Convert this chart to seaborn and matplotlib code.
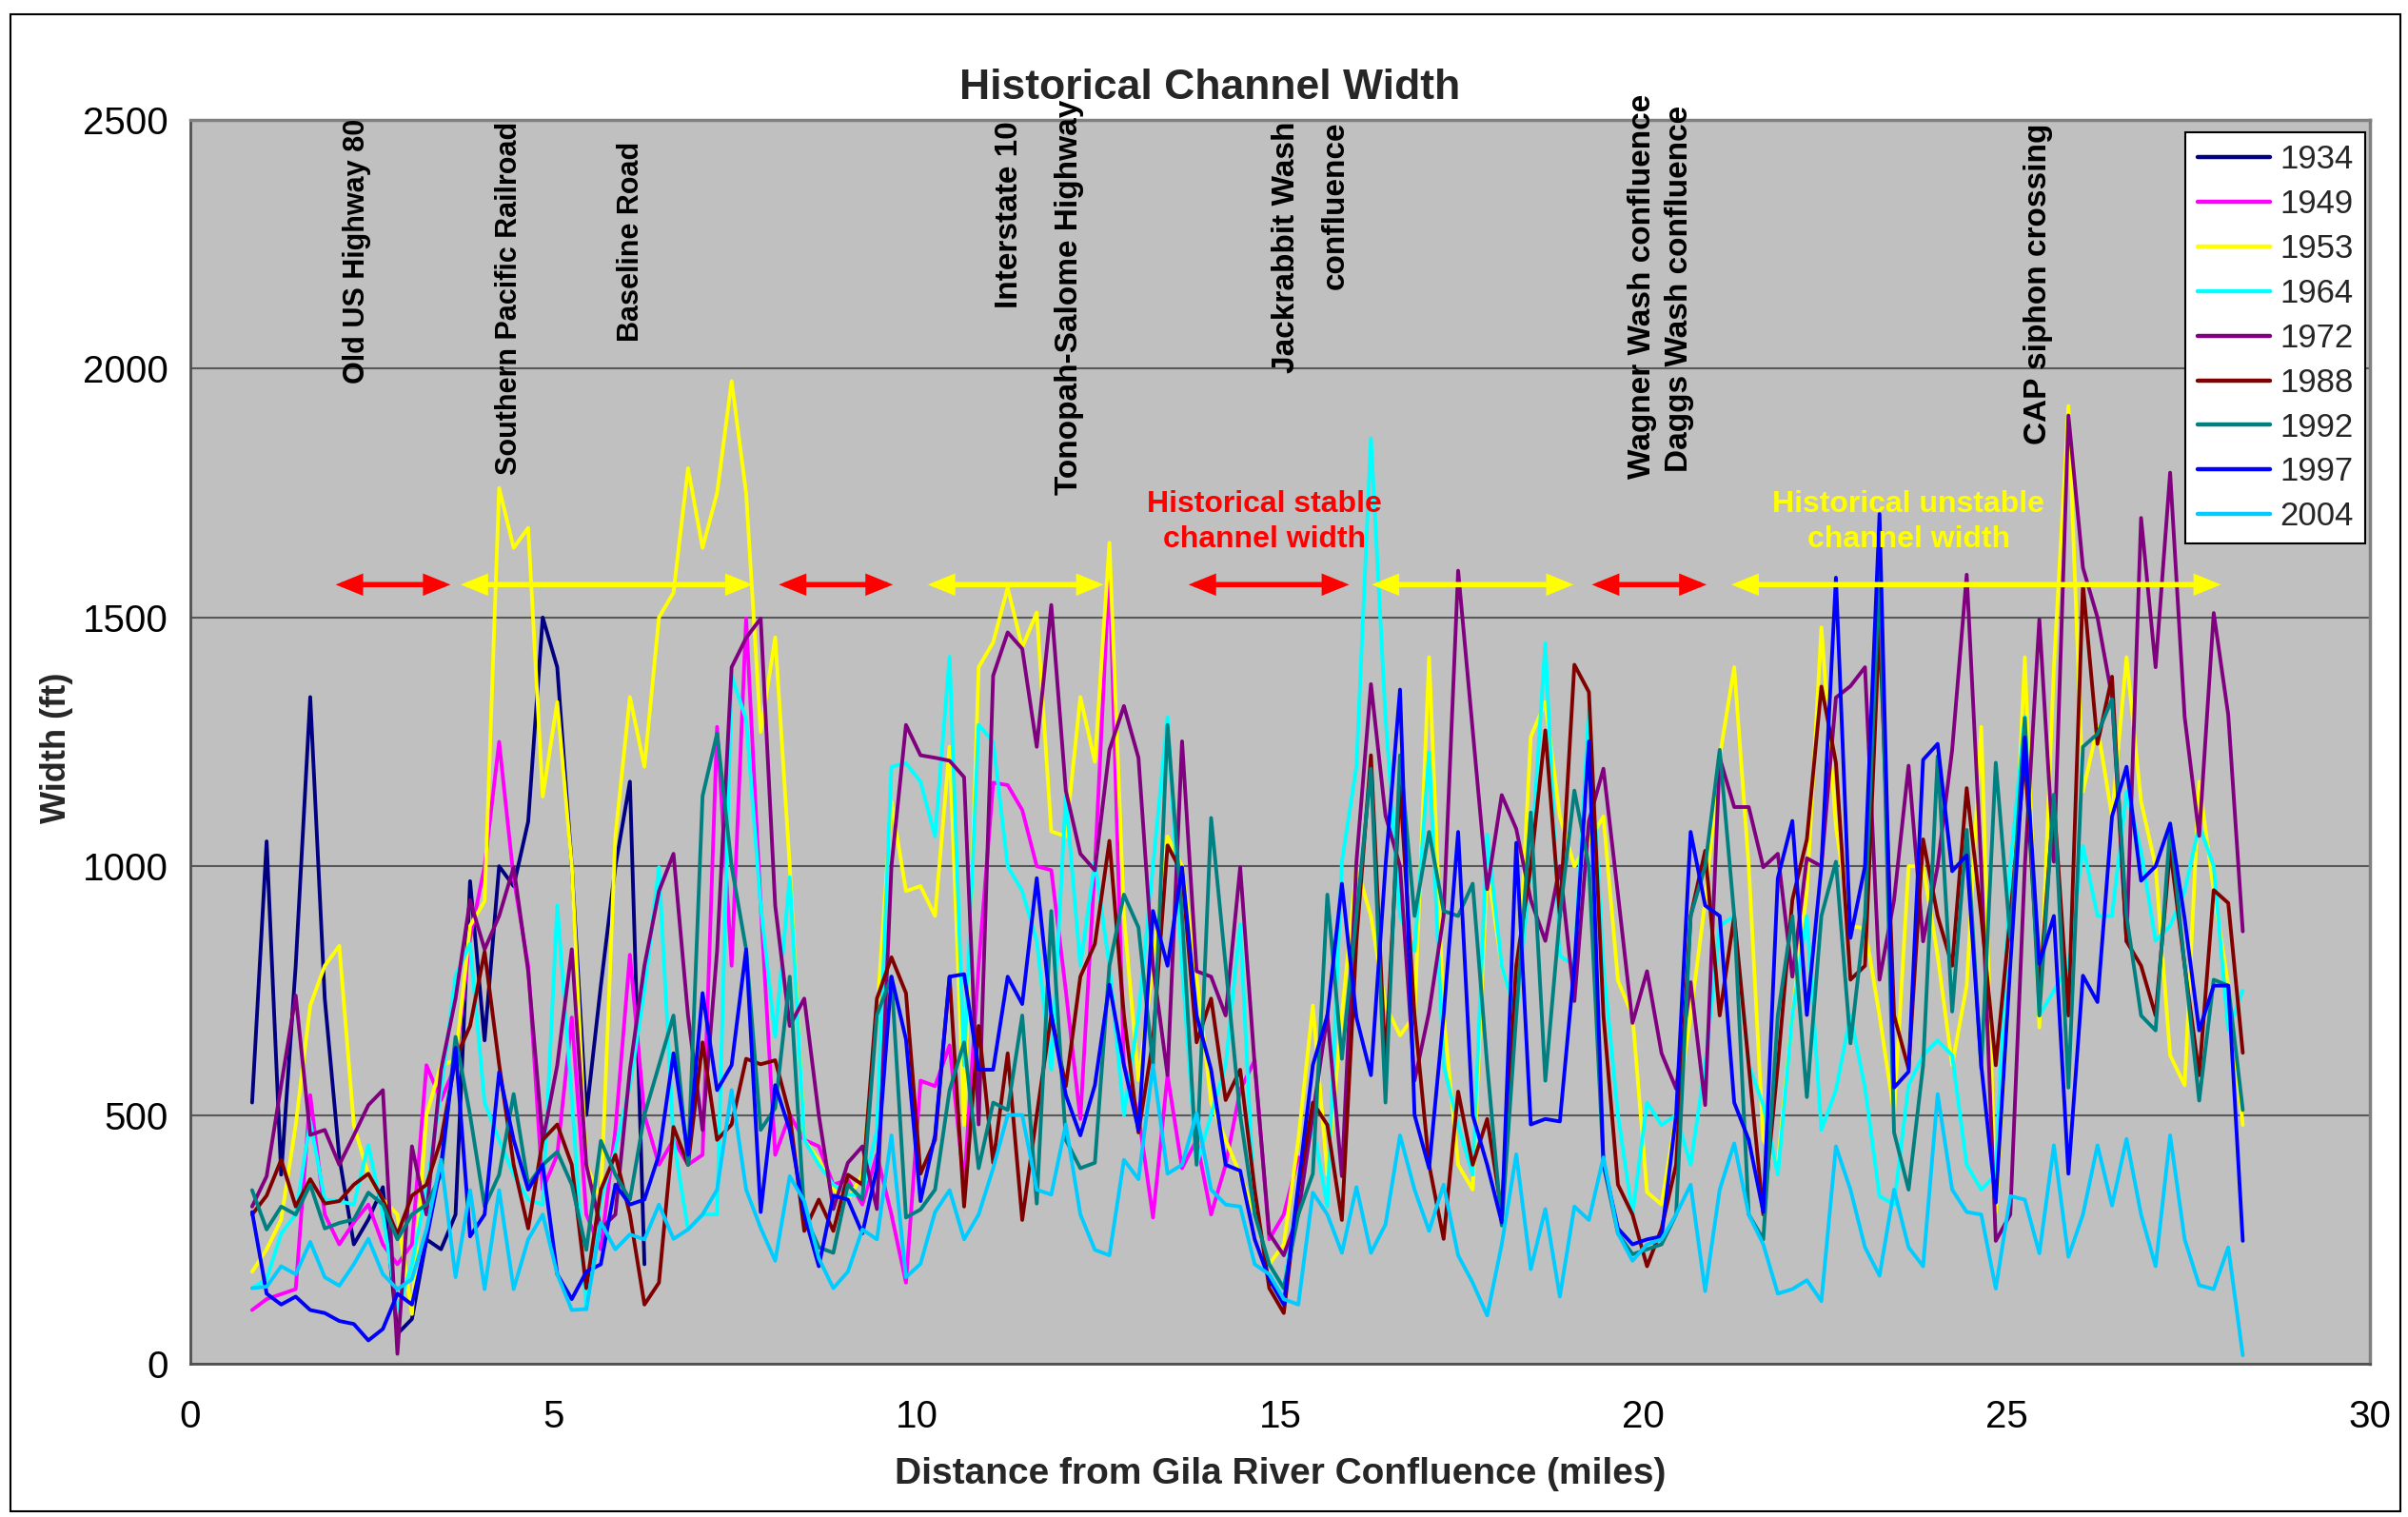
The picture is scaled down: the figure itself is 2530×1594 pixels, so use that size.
import numpy as np
import pandas as pd
import matplotlib
matplotlib.use("Agg")
import matplotlib.pyplot as plt
from matplotlib.patches import Rectangle
import seaborn as sns

# ---------------- data ----------------
START_MILE = 0.85
STEP_MILE = 0.2
N_POINTS = 138
DIST = list(np.round(START_MILE + STEP_MILE * np.arange(N_POINTS), 2))

YEARS = ["1934", "1949", "1953", "1964", "1972", "1988", "1992", "1997", "2004"]
COLORS = ["#000080", "#FF00FF", "#FFFF00", "#00FFFF", "#800080",
          "#800000", "#008080", "#0000FF", "#00CCFF"]

W1934 = [525, 1050, 380, 800, 1340, 734, 415, 240, 290, 355,
         60, 90, 250, 230, 300, 970, 650, 1000, 960, 1090,
         1500, 1400, 1000, 500, 760, 1000, 1170, 200]

W1949 = [108, 130, 140, 150, 540, 300, 240, 284, 320, 240,
         200, 240, 600, 530, 600, 855, 1000, 1250, 976, 800,
         350, 420, 696, 300, 230, 470, 822, 500, 400, 450,
         400, 420, 1280, 800, 1498, 921, 420, 500, 450, 437,
         360, 370, 320, 420, 300, 163, 569, 558, 640, 360,
         800, 1168, 1163, 1113, 1000, 992, 750, 492, 1000, 1600,
         600, 500, 294, 580, 393, 450, 300, 400, 550, 610,
         250, 300, 415]

W1953 = [185, 230, 290, 480, 720, 800, 840, 480, 380, 330,
         300, 100, 500, 600, 610, 880, 930, 1760, 1640, 1680,
         1140, 1330, 1000, 400, 330, 1060, 1340, 1200, 1500, 1550,
         1800, 1640, 1750, 1975, 1750, 1270, 1460, 1000, 450, 410,
         350, 330, 380, 700, 1130, 950, 960, 900, 1240, 480,
         1400, 1450, 1560, 1440, 1510, 1070, 1060, 1340, 1210, 1650,
         900, 570, 800, 1060, 1000, 780, 525, 450, 380, 300,
         200, 240, 450, 720, 380, 700, 1000, 900, 720, 660,
         700, 1420, 700, 400, 350, 1000, 800, 700, 1260, 1330,
         1100, 1000, 1050, 1100, 770, 700, 345, 320, 500, 700,
         930, 1220, 1400, 1000, 450, 400, 700, 950, 1480, 1080,
         880, 875, 700, 503, 1000, 1000, 820, 600, 760, 1280,
         305, 800, 1420, 676, 1400, 1925, 1150, 1280, 1100, 1420,
         1130, 1000, 620, 560, 1170, 950, 760, 480]

W1964 = [152, 170, 262, 300, 487, 330, 327, 320, 440, 300,
         108, 200, 350, 550, 780, 844, 525, 450, 380, 330,
         320, 921, 536, 108, 330, 430, 560, 750, 998, 450,
         270, 300, 300, 1383, 1295, 921, 657, 978, 450, 400,
         360, 340, 340, 470, 1200, 1207, 1170, 1060, 1421, 600,
         1284, 1250, 1000, 950, 850, 591, 1141, 800, 1009, 800,
         500, 700, 1000, 1300, 800, 400, 500, 600, 883, 300,
         200, 150, 350, 480, 316, 1009, 1200, 1860, 1300, 900,
         830, 1229, 600, 480, 380, 1064, 800, 700, 1000, 1448,
         820, 800, 1317, 800, 500, 300, 525, 480, 500, 400,
         600, 880, 900, 600, 520, 380, 700, 900, 470, 550,
         700, 555, 337, 320, 560, 620, 650, 620, 400, 350,
         380, 1000, 1300, 700, 750, 800, 1041, 900, 900, 1150,
         1030, 850, 880, 950, 1082, 1000, 670, 750]

W1972 = [316, 377, 560, 740, 460, 470, 400, 459, 520, 550,
         20, 437, 300, 591, 734, 932, 833, 900, 998, 789,
         448, 600, 833, 400, 272, 300, 591, 800, 950, 1025,
         700, 470, 830, 1400, 1459, 1498, 921, 679, 734, 500,
         311, 404, 437, 311, 1000, 1284, 1223, 1218, 1212, 1179,
         481, 1383, 1470, 1437, 1240, 1525, 1152, 1025, 992, 1234,
         1322, 1218, 800, 580, 1251, 789, 778, 700, 998, 600,
         262, 218, 300, 500, 701, 377, 1009, 1366, 1102, 1000,
         569, 707, 900, 1594, 1273, 954, 1143, 1075, 932, 850,
         1000, 729, 1091, 1196, 943, 685, 789, 624, 553, 767,
         520, 1218, 1119, 1119, 998, 1025, 778, 1016, 1000, 1339,
         1362, 1400, 772, 932, 1202, 849, 1000, 1234, 1586, 1000,
         247, 300, 1000, 1496, 1009, 1906, 1600, 1500, 1340, 849,
         1700, 1400, 1791, 1300, 1061, 1509, 1304, 869]

W1988 = [300, 338, 410, 316, 371, 322, 327, 360, 382, 330,
         260, 338, 360, 450, 613, 679, 828, 602, 400, 272,
         450, 481, 400, 152, 350, 420, 300, 119, 163, 476,
         400, 646, 450, 481, 613, 602, 610, 500, 267, 330,
         267, 380, 360, 734, 817, 745, 382, 450, 778, 316,
         679, 404, 624, 289, 500, 701, 558, 778, 844, 1051,
         700, 465, 650, 1042, 987, 646, 734, 530, 591, 350,
         152, 102, 350, 525, 480, 289, 850, 1223, 600, 1163,
         700, 400, 251, 547, 400, 492, 305, 800, 1000, 1273,
         900, 1405, 1350, 700, 360, 300, 196, 272, 400, 900,
         1031, 700, 900, 600, 300, 600, 932, 1054, 1361, 1208,
         772, 800, 1490, 700, 593, 1054, 900, 800, 1157, 900,
         600, 900, 1221, 747, 1131, 700, 1567, 1246, 1381, 849,
         800, 700, 1035, 800, 580, 952, 926, 625]

W1992 = [349, 270, 316, 300, 360, 272, 283, 290, 344, 320,
         250, 300, 320, 380, 657, 500, 316, 380, 542, 360,
         400, 426, 360, 229, 448, 380, 330, 500, 600, 700,
         400, 1141, 1267, 1000, 833, 470, 514, 778, 300, 234,
         223, 360, 330, 701, 778, 294, 310, 350, 550, 646,
         393, 525, 510, 700, 322, 910, 450, 393, 404, 800,
         943, 877, 600, 1284, 900, 400, 1097, 800, 500, 300,
         200, 152, 300, 382, 943, 613, 900, 1196, 525, 1223,
         900, 1069, 910, 900, 965, 600, 278, 700, 1108, 569,
         900, 1152, 1000, 400, 262, 220, 230, 240, 300, 900,
         1000, 1234, 900, 300, 250, 700, 900, 536, 900, 1009,
         644, 900, 1592, 465, 350, 600, 1221, 708, 1073, 593,
         1208, 856, 1298, 700, 1144, 555, 1240, 1266, 1336, 900,
         700, 670, 1080, 800, 529, 772, 760, 510]

W1997 = [305, 141, 119, 135, 108, 102, 86, 80, 47, 70,
         141, 119, 250, 400, 635, 256, 300, 586, 450, 350,
         400, 180, 130, 185, 200, 360, 320, 330, 420, 624,
         420, 745, 550, 600, 833, 305, 560, 470, 300, 196,
         338, 330, 262, 393, 778, 652, 327, 459, 778, 783,
         591, 591, 778, 723, 976, 700, 540, 459, 560, 762,
         600, 470, 910, 800, 998, 700, 591, 400, 388, 250,
         170, 119, 360, 600, 700, 965, 696, 580, 1000, 1355,
         500, 393, 700, 1069, 500, 400, 284, 1047, 481, 492,
         487, 800, 1251, 404, 272, 240, 250, 256, 500, 1069,
         921, 900, 525, 450, 305, 976, 1091, 701, 1000, 1580,
         856, 1000, 1708, 555, 587, 1214, 1246, 990, 1022, 600,
         324, 800, 1259, 804, 900, 382, 780, 727, 1100, 1200,
         971, 1000, 1086, 894, 670, 760, 760, 247]

W2004 = [152, 155, 196, 180, 245, 174, 157, 200, 251, 180,
         150, 170, 270, 410, 174, 349, 150, 349, 150, 250,
         300, 180, 108, 110, 284, 230, 260, 250, 320, 251,
         270, 300, 350, 550, 350, 273, 207, 377, 327, 212,
         152, 185, 270, 250, 459, 174, 201, 305, 349, 250,
         300, 393, 500, 500, 350, 340, 481, 300, 229, 218,
         410, 371, 600, 382, 400, 503, 350, 320, 316, 200,
         180, 130, 119, 344, 300, 223, 355, 223, 280, 459,
         350, 267, 360, 218, 163, 97, 240, 421, 190, 311,
         135, 316, 289, 415, 262, 207, 240, 250, 300, 360,
         146, 350, 443, 300, 240, 141, 150, 168, 126, 437,
         350, 234, 177, 350, 234, 196, 542, 350, 305, 300,
         151, 337, 330, 222, 439, 215, 300, 439, 318, 452,
         300, 196, 459, 250, 158, 150, 234, 17]

SERIES = [W1934, W1949, W1953, W1964, W1972, W1988, W1992, W1997, W2004]

X_TICKS = [0, 5, 10, 15, 20, 25, 30]
Y_TICKS = [0, 500, 1000, 1500, 2000, 2500]

# landmark labels: (text, mile, width-ft anchor, anchor type, fontsize)
LANDMARKS = [
    ("Old US Highway 80", 2.29, 1970, "bottom", 22),
    ("Southern Pacific Railroad", 4.39, 1787, "bottom", 22),
    ("Baseline Road", 6.07, 2055, "bottom", 22),
    ("Interstate 10", 11.27, 2121, "bottom", 24),
    ("Tonopah-Salome Highway", 12.10, 1747, "bottom", 24),
    ("Jackrabbit Wash", 15.08, 2497, "top", 24),
    ("confluence", 15.76, 2497, "top", 24),
    ("Wagner Wash confluence", 19.99, 2165, "center", 24),
    ("Daggs Wash confluence", 20.49, 2161, "center", 24),
    ("CAP siphon crossing", 25.43, 1847, "bottom", 24),
]

# stability reaches (start mile, end mile, colour)
REACHES = [
    (2.00, 3.58, "#FF0000"), (3.72, 7.74, "#FFFF00"),
    (8.10, 9.67, "#FF0000"), (10.15, 12.57, "#FFFF00"),
    (13.74, 15.95, "#FF0000"), (16.26, 19.04, "#FFFF00"),
    (19.29, 20.87, "#FF0000"), (21.21, 27.95, "#FFFF00"),
]
REACH_Y = 1566

# ---------------- build frame ----------------
rows = []
for year, vals in zip(YEARS, SERIES):
    for i, v in enumerate(vals):
        rows.append({"dist": DIST[i], "width": v, "year": year})
df = pd.DataFrame(rows)

# ---------------- style ----------------
sns.set_theme(style="white")
plt.rcParams["font.family"] = ["Liberation Sans", "DejaVu Sans"]

W_PX, H_PX, DPI = 2530, 1594, 100
fig = plt.figure(figsize=(W_PX / DPI, H_PX / DPI), dpi=DPI)
fig.patch.set_facecolor("white")
ax = fig.add_axes([200 / W_PX, 1 - 1433 / H_PX, 2290 / W_PX, 1307 / H_PX])
ax.set_facecolor("#C0C0C0")

sns.lineplot(data=df, x="dist", y="width", hue="year", hue_order=YEARS,
             palette=COLORS, estimator=None, sort=True, linewidth=2.8,
             ax=ax, legend="full")

ax.set_xlim(0, 30)
ax.set_ylim(0, 2500)
ax.set_xticks(X_TICKS)
ax.set_yticks(Y_TICKS)
ax.set_xlabel("")
ax.set_ylabel("")
ax.yaxis.grid(True, color="#595959", linewidth=1.5)
ax.xaxis.grid(False)
ax.set_axisbelow(True)
ax.tick_params(axis="both", which="major", direction="out", length=9,
               width=1.5, color="#404040", labelsize=29, colors="black")
ax.tick_params(axis="x", pad=18)
ax.tick_params(axis="y", pad=8)
for side in ["top", "right"]:
    ax.spines[side].set_color("#808080")
    ax.spines[side].set_linewidth(2.5)
for side in ["left", "bottom"]:
    ax.spines[side].set_color("#505050")
    ax.spines[side].set_linewidth(2.0)

# legend
leg = ax.get_legend()
handles = leg.legend_handles
labels = [t.get_text() for t in leg.get_texts()]
leg.remove()
for h in handles:
    h.set_linewidth(3.2)
lg = ax.legend(handles, labels, loc="upper right", bbox_to_anchor=(0.9978, 0.990),
               borderaxespad=0, fontsize=25, frameon=True, fancybox=False,
               edgecolor="black", framealpha=1, facecolor="white",
               labelspacing=0.40, handlelength=2.2, handletextpad=0.3,
               borderpad=0.35)
lg.get_frame().set_linewidth(1.5)

# landmark labels
for text, mile, ft, anchor, fs in LANDMARKS:
    ax.text(mile, ft, text, rotation=90, ha="center", va=anchor,
            fontsize=fs, fontweight="bold", color="black", clip_on=False)

# reach arrows
for x0, x1, col in REACHES:
    ax.annotate("", xy=(x1, REACH_Y), xytext=(x0, REACH_Y),
                arrowprops=dict(arrowstyle="<|-|>,head_length=1.35,head_width=0.55",
                                mutation_scale=10, lw=4, color=col,
                                shrinkA=0, shrinkB=0, joinstyle="miter"))

ax.text(14.78, 1692, "Historical stable\nchannel width", color="#FF0000",
        fontsize=23, fontweight="bold", ha="center", va="center", linespacing=1.3)
ax.text(23.65, 1692, "Historical unstable\nchannel width", color="#FFFF00",
        fontsize=23, fontweight="bold", ha="center", va="center", linespacing=1.3)

# titles / axis labels
fig.text(1271.5 / W_PX, 1 - 92 / H_PX, "Historical Channel Width",
         fontsize=32, fontweight="bold", ha="center", va="center")
fig.text(1345 / W_PX, 1 - 1549 / H_PX, "Distance from Gila River Confluence (miles)",
         fontsize=28, fontweight="bold", ha="center", va="center")
fig.text(60 / W_PX, 1 - 786 / H_PX, "Width (ft)", rotation=90,
         fontsize=26, fontweight="bold", ha="center", va="center")

# chart border
fig.patches.append(Rectangle((11 / W_PX, 6 / H_PX), (W_PX - 19) / W_PX, (H_PX - 21) / H_PX,
                             transform=fig.transFigure, fill=False,
                             edgecolor="black", linewidth=1.5))

fig.savefig("out.png", dpi=DPI)
